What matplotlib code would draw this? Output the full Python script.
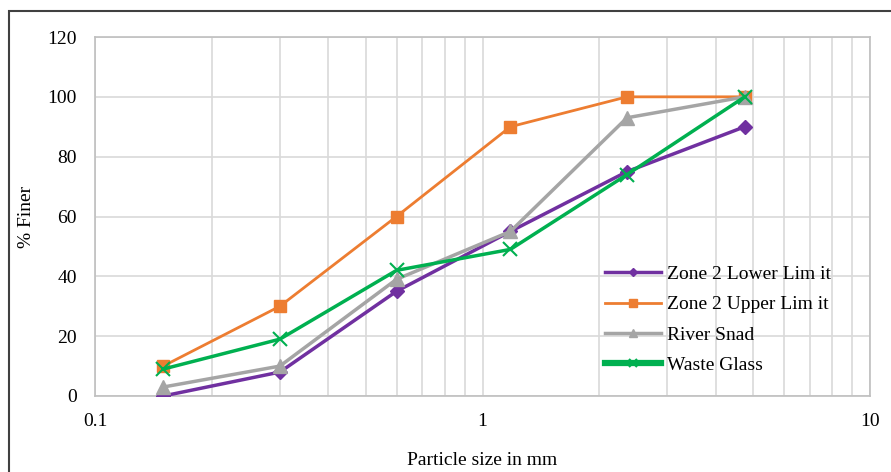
import matplotlib.pyplot as plt
from matplotlib.patches import Rectangle

# sieve sizes (mm) and cumulative % passing
sizes = [0.15, 0.3, 0.6, 1.18, 2.36, 4.75]
lower_limit = [0, 8, 35, 55, 75, 90]
upper_limit = [10, 30, 60, 90, 100, 100]
river_sand = [3, 10, 39, 55, 93, 100]
waste_glass = [9, 19, 42, 49, 74, 100]

plt.rcParams['font.family'] = ['Liberation Serif', 'DejaVu Serif']

fig = plt.figure(figsize=(8.91, 4.72), dpi=100)
ax = fig.add_axes([95 / 891, 1 - 396 / 472, 775 / 891, 359 / 472])

# outer chart border
fig.patches.append(Rectangle((9 / 891, -0.1), 1.0, 1 - 11 / 472 + 0.1,
                             transform=fig.transFigure, fill=False,
                             edgecolor='#404040', linewidth=1.5))

ax.plot(sizes, lower_limit, color='#7030A0', lw=2.5, marker='D', ms=7,
        label='Zone 2 Lower Lim it', zorder=3)
ax.plot(sizes, upper_limit, color='#ED7D31', lw=2, marker='s', ms=9,
        label='Zone 2 Upper Lim it', zorder=3)
ax.plot(sizes, river_sand, color='#A5A5A5', lw=2.5, marker='^', ms=10,
        label='River Snad', zorder=3)
ax.plot(sizes, waste_glass, color='#00B050', lw=2.5, marker='x', ms=10,
        mew=1.5, label='Waste Glass', zorder=4)

ax.set_xscale('log')
ax.set_xlim(0.1, 10)
ax.set_ylim(0, 120)
ax.set_yticks(range(0, 121, 20))
ax.set_xticks([0.1, 1, 10])
ax.set_xticklabels(['0.1', '1', '10'])
ax.grid(True, which='both', axis='x', color='#D9D9D9', lw=1.2)
ax.grid(True, which='major', axis='y', color='#D9D9D9', lw=1.2)
ax.set_axisbelow(True)
ax.tick_params(which='both', length=0, labelsize=14)
ax.tick_params(axis='y', pad=13)
ax.tick_params(axis='x', pad=12)
for s in ax.spines.values():
    s.set_color('#BFBFBF')
    s.set_linewidth(1.2)

ax.set_ylabel('% Finer', fontsize=14)
ax.yaxis.set_label_coords(-0.078, 0.5)
ax.set_xlabel('Particle size in mm', fontsize=14)
ax.xaxis.set_label_coords(0.5, -0.155)

leg = ax.legend(loc='upper left', bbox_to_anchor=(0.658, 0.364), frameon=False,
                fontsize=14, handlelength=2.9, labelspacing=0.66,
                markerscale=0.6, handletextpad=0.3, borderaxespad=0,
                borderpad=0)
# thicker legend stroke for the glass series
leg.get_lines()[3].set_linewidth(4.5)

fig.savefig('out.png', dpi=100)
